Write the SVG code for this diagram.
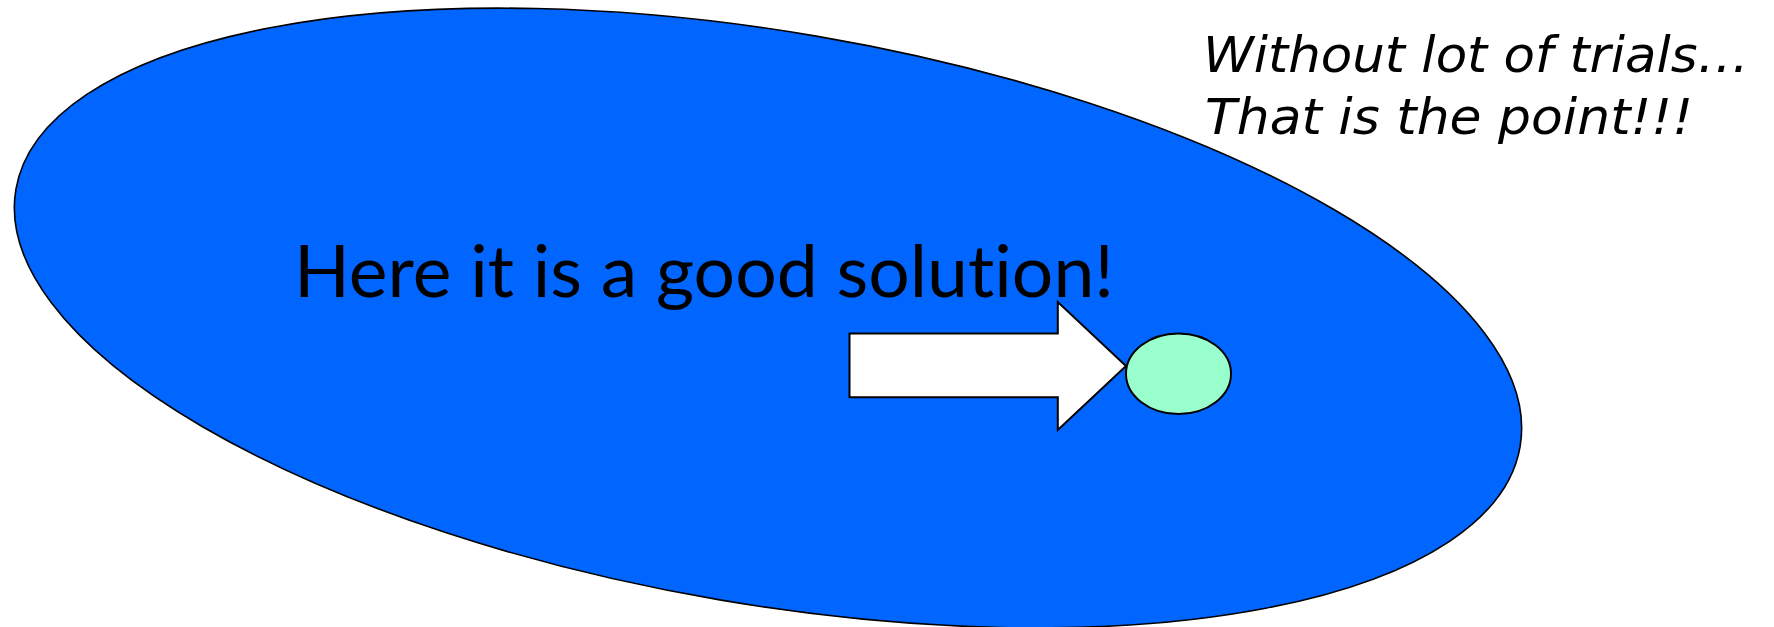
<svg xmlns="http://www.w3.org/2000/svg" width="1774" height="627" viewBox="0 0 1774 627">
<style>
.main{font-family:Lato,"Open Sans","Liberation Sans",sans-serif;font-size:71px;fill:#000;font-variant-ligatures:none;font-feature-settings:"liga" 0,"clig" 0}
.note{font-family:"DejaVu Sans","Liberation Sans",sans-serif;font-style:italic;font-size:50px;fill:#000}
.shape{stroke:#000;stroke-width:2}
</style>
<g id="region">
<ellipse cx="768" cy="318" rx="763" ry="286" transform="rotate(9.7 768 318)" fill="#0066FF" stroke="#000" stroke-width="1.6"/>
</g>
<g id="label-main">
<text class="main" x="294" y="297" textLength="820" lengthAdjust="spacingAndGlyphs">Here it is a good solution!</text>
</g>
<g id="note">
<text class="note" x="1203" y="72" textLength="546" lengthAdjust="spacingAndGlyphs">Without lot of trials…</text>
<text class="note" x="1205" y="134" textLength="488" lengthAdjust="spacingAndGlyphs">That is the point!!!</text>
</g>
<g id="connectors">
<path class="shape" d="M849.5,333.5 H1057.8 V302 L1126,366 L1057.8,430 V397.3 H849.5 Z" fill="#fff" stroke-linejoin="miter"/>
</g>
<g id="solution">
<ellipse class="shape" cx="1178.5" cy="373.7" rx="52.5" ry="40.3" fill="#99FFCC"/>
</g>
</svg>
